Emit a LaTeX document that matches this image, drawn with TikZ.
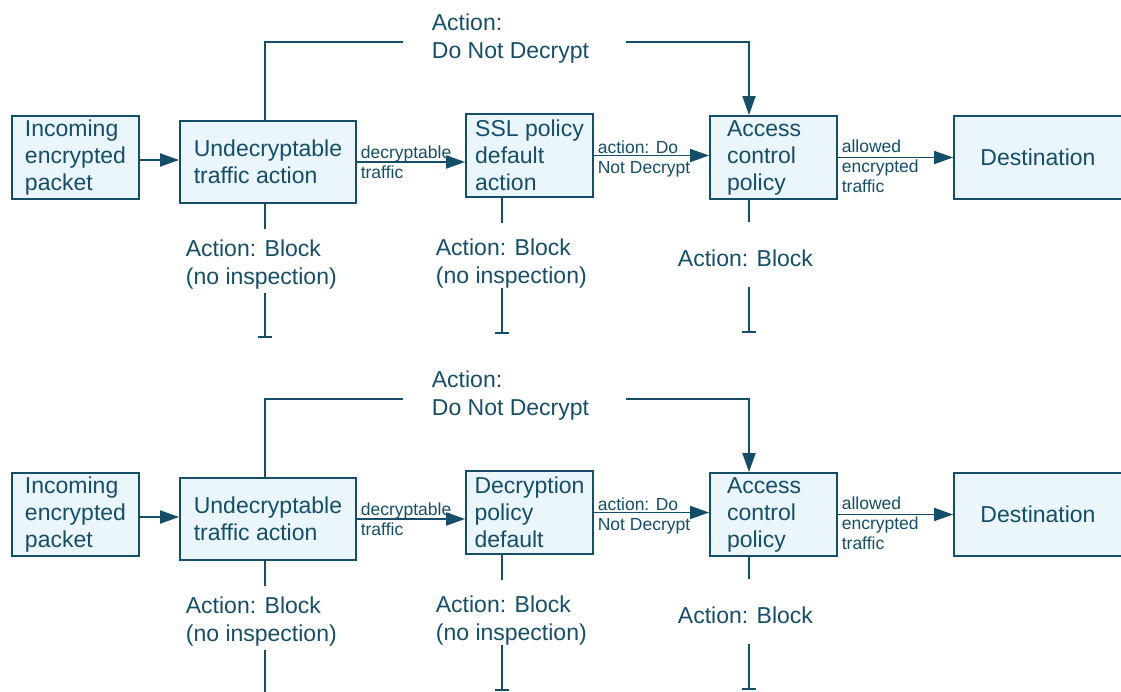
\documentclass[tikz,border=0pt]{standalone}
\usepackage{fontspec}
\setmainfont{Liberation Sans}
\usepackage{tikz}
\usetikzlibrary{arrows.meta}
\definecolor{ciscoteal}{RGB}{20,78,104}
\definecolor{boxfill}{RGB}{234,245,252}

\begin{document}
\begin{tikzpicture}[x=1pt,y=-1pt,
	font=\fontsize{23}{27}\selectfont,
	color=ciscoteal,
	line width=1.8pt,
	box/.style={draw=ciscoteal,fill=boxfill,align=left,inner sep=0pt,minimum height=83pt},
	small/.style={font=\fontsize{17.5}{20}\selectfont,align=left,inner sep=3pt,anchor=west},
	blab/.style={font=\fontsize{23}{28}\selectfont,align=left,inner sep=0pt,anchor=west},
	arr/.style={-{Triangle[length=19pt,width=13pt]}},
	stop/.style={-{Bar[width=14pt]}}]

	\useasboundingbox (0,0) rectangle (1121,692);
	\clip (0,0) rectangle (1121,692);

	% upper flow
	\node [box,minimum width=127pt] (in1) at (75.5,157.5) {Incoming\\encrypted\\packet};
	\node [box,minimum width=176pt,minimum height=82pt] (und1) at (268,162) {Undecryptable\\traffic action};
	\node [box,minimum width=127pt] (ssl1) at (529.5,155.5) {SSL policy\\default\\action};
	\node [box,minimum width=127pt,text width=93pt] (acp1) at (773.5,157.5) {Access\\control\\policy};
	\node [box,minimum width=168pt] (dst1) at (1038,157.5) {Destination};

	\node [blab] (dnd1) at (431,38.5) {Action:\\Do Not Decrypt};
	\node [blab] (ab11) at (185,264.5) {Action: Block\\(no inspection)};
	\node [blab] (ab12) at (435,263.5) {Action: Block\\(no inspection)};
	\node [blab] (ab13) at (677,258) {Action: Block};

	\coordinate (g11a) at (265,229);
	\coordinate (g11b) at (265,293);
	\coordinate (t11) at (265,338);
	\coordinate (g12a) at (502,223);
	\coordinate (g12b) at (502,288);
	\coordinate (t12) at (502,334);
	\coordinate (g13a) at (749,222);
	\coordinate (g13b) at (749,287);
	\coordinate (t13) at (749,333);

	\draw [arr] ([yshift=-2.5pt]in1.east) -- ([yshift=-2.5pt]in1.east -| und1.west);
	\draw [arr] (und1.east) -- (und1.east -| ssl1.west)
		node [small,at start] {decryptable\\traffic};
	\draw [arr] (ssl1.east) -- (ssl1.east -| acp1.west)
		node [small,at start,yshift=-3.5pt] {action: Do\\Not Decrypt};
	\draw [arr] (acp1.east) -- (acp1.east -| dst1.west)
		node [small,at start,yshift=-8.5pt] {allowed\\encrypted\\traffic};

	\draw (und1.north -| t11) |- ([xshift=-28pt,yshift=-3.5pt]dnd1.west);
	\draw [arr] ([xshift=36pt,yshift=-3.5pt]dnd1.east) -| (acp1.north -| t13);

	\draw (und1.south -| t11) -- (g11a);
	\draw [stop] (g11b) -- (t11);
	\draw (ssl1.south -| t12) -- (g12a);
	\draw [stop] (g12b) -- (t12);
	\draw (acp1.south -| t13) -- (g13a);
	\draw [stop] (g13b) -- (t13);

	% lower flow
	\node [box,minimum width=127pt] (in2) at (75.5,514.5) {Incoming\\encrypted\\packet};
	\node [box,minimum width=176pt,minimum height=82pt] (und2) at (268,519) {Undecryptable\\traffic action};
	\node [box,minimum width=127pt] (dec2) at (529.5,512.5) {Decryption\\policy\\default};
	\node [box,minimum width=127pt,text width=93pt] (acp2) at (773.5,514.5) {Access\\control\\policy};
	\node [box,minimum width=168pt] (dst2) at (1038,514.5) {Destination};

	\node [blab] (dnd2) at (431,395.5) {Action:\\Do Not Decrypt};
	\node [blab] (ab21) at (185,621.5) {Action: Block\\(no inspection)};
	\node [blab] (ab22) at (435,620.5) {Action: Block\\(no inspection)};
	\node [blab] (ab23) at (677,615) {Action: Block};

	\coordinate (g21a) at (265,586);
	\coordinate (g21b) at (265,650);
	\coordinate (t21) at (265,695);
	\coordinate (g22a) at (502,580);
	\coordinate (g22b) at (502,645);
	\coordinate (t22) at (502,691);
	\coordinate (g23a) at (749,579);
	\coordinate (g23b) at (749,644);
	\coordinate (t23) at (749,690);

	\draw [arr] ([yshift=-2.5pt]in2.east) -- ([yshift=-2.5pt]in2.east -| und2.west);
	\draw [arr] (und2.east) -- (und2.east -| dec2.west)
		node [small,at start] {decryptable\\traffic};
	\draw [arr] (dec2.east) -- (dec2.east -| acp2.west)
		node [small,at start,yshift=-3.5pt] {action: Do\\Not Decrypt};
	\draw [arr] (acp2.east) -- (acp2.east -| dst2.west)
		node [small,at start,yshift=-8.5pt] {allowed\\encrypted\\traffic};

	\draw (und2.north -| t21) |- ([xshift=-28pt,yshift=-3.5pt]dnd2.west);
	\draw [arr] ([xshift=36pt,yshift=-3.5pt]dnd2.east) -| (acp2.north -| t23);

	\draw (und2.south -| t21) -- (g21a);
	\draw [stop] (g21b) -- (t21);
	\draw (dec2.south -| t22) -- (g22a);
	\draw [stop] (g22b) -- (t22);
	\draw (acp2.south -| t23) -- (g23a);
	\draw [stop] (g23b) -- (t23);

\end{tikzpicture}
\end{document}
